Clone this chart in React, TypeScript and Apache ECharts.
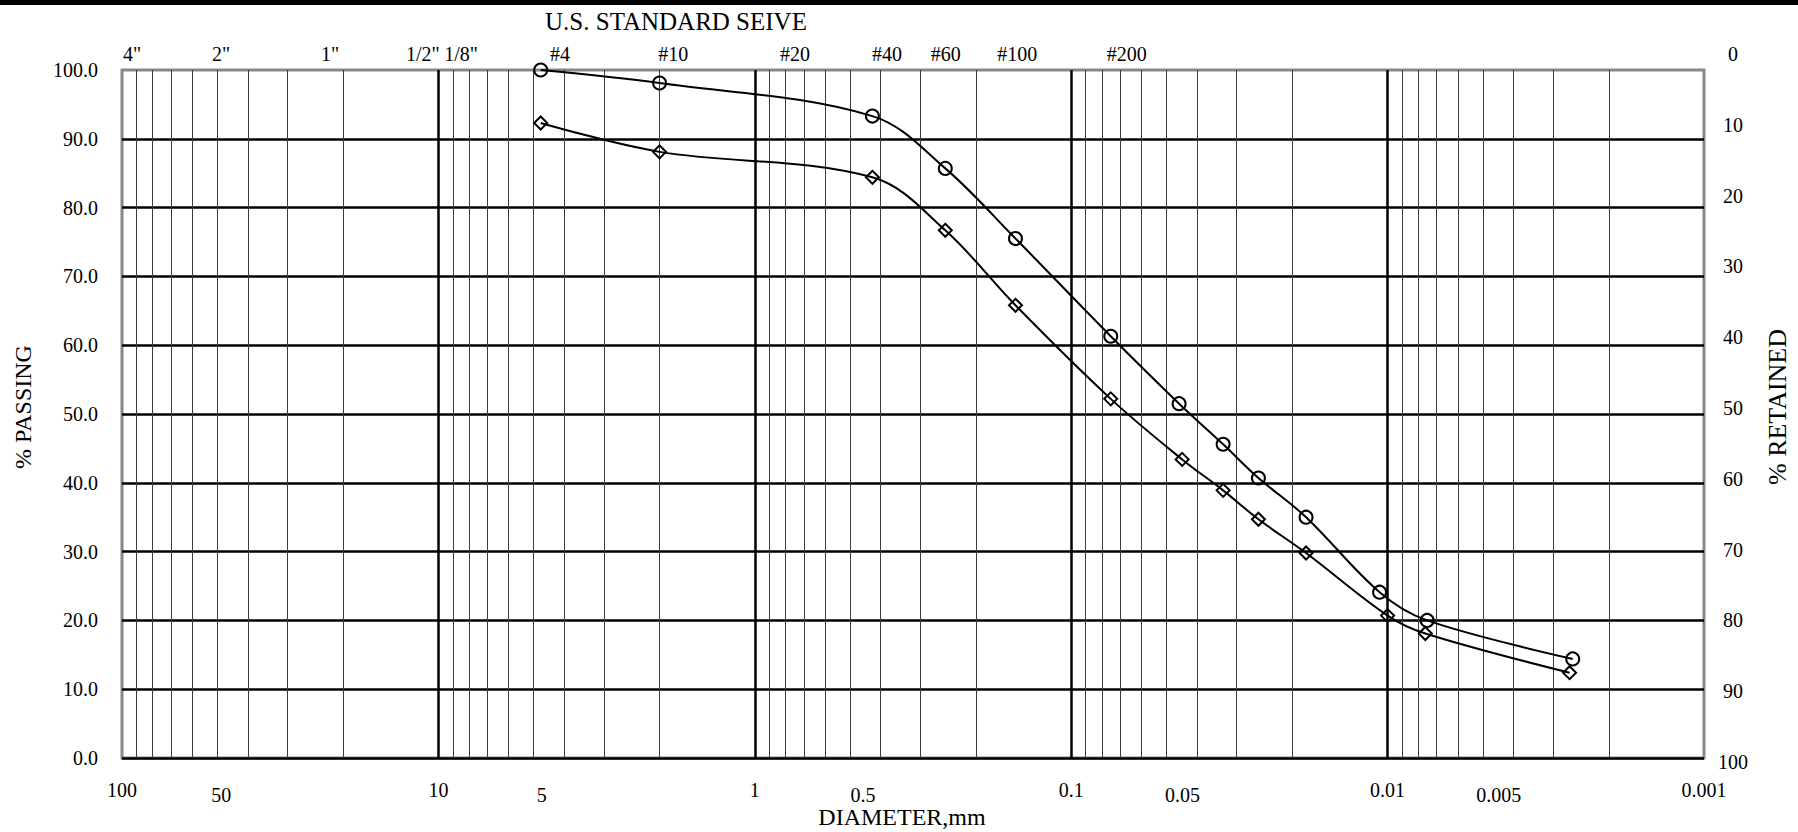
import React, { useEffect, useRef } from 'react';
import * as echarts from 'echarts';

// Grain size distribution data (diameter in mm, % passing)
const circleDiameters = [4.75, 2.0, 0.425, 0.25, 0.15, 0.075, 0.0456, 0.0331, 0.0256, 0.0181, 0.0106, 0.0075, 0.0026];
const circlePassing = [100.0, 98.1, 93.3, 85.7, 75.5, 61.3, 51.5, 45.6, 40.7, 35.0, 24.1, 20.0, 14.4];
const diamondDiameters = [4.75, 2.0, 0.425, 0.25, 0.15, 0.075, 0.0446, 0.0331, 0.0256, 0.0181, 0.0100, 0.0076, 0.00266];
const diamondPassing = [92.3, 88.1, 84.4, 76.7, 65.8, 52.2, 43.4, 38.9, 34.7, 29.8, 20.7, 18.1, 12.4];

// Axis tick labels
const majorTicks = [100, 10, 1, 0.1, 0.01, 0.001];
const majorLabels = ['100', '10', '1', '0.1', '0.01', '0.001'];
const halfTicks = [50, 5, 0.5, 0.05, 0.005];
const halfLabels = ['50', '5', '0.5', '0.05', '0.005'];
const sieveNames = ['4"', '2"', '1"', '1/2"', '1/8"', '#4', '#10', '#20', '#40', '#60', '#100', '#200'];
const sieveLabelAt = [93, 48.6, 22.0, 11.2, 8.48, 4.13, 1.81, 0.746, 0.382, 0.249, 0.148, 0.0667];

const FONT = "'Liberation Serif', 'Times New Roman', serif";

export default function App() {
  const ref = useRef<HTMLDivElement>(null);

  useEffect(() => {
    document.body.style.margin = '0';
    const chart = echarts.init(ref.current!, undefined, { renderer: 'svg' });
    const lg = (v: number) => Math.log10(v);
    const nearest = (arr: number[], v: number) => {
      let best = 0;
      arr.forEach((a, i) => {
        if (Math.abs(lg(a) - v) < Math.abs(lg(arr[best]) - v)) best = i;
      });
      return best;
    };

    const minorVals: number[] = [];
    for (let e = -3; e <= 1; e++) {
      for (let k = 2; k <= 9; k++) minorVals.push(lg(k * Math.pow(10, e)));
    }

    const halfOffsets = [4, 8, 13, 16, 16];
    const rich: any = {};
    halfOffsets.forEach((o, i) => {
      rich['h' + i] = { fontFamily: FONT, fontSize: 20, color: '#000', padding: [0, 0, 0, 2 * o] };
    });

    const labelStyle = { fontFamily: FONT, fontSize: 20, color: '#000' };
    const xBase = { type: 'value', min: -3, max: 2, inverse: true, gridIndex: 0 };

    const option: any = {
      animation: false,
      backgroundColor: '#fff',
      grid: [
        { left: 122, top: 70, width: 1582, height: 688, show: true, borderColor: '#888', borderWidth: 3, backgroundColor: 'transparent' },
        { left: 122, top: 54, width: 1582, height: 708, show: false },
      ],
      xAxis: [
        {
          ...xBase,
          position: 'bottom',
          axisLine: { show: false },
          axisTick: { show: false, customValues: minorVals },
          axisLabel: { show: false },
          splitLine: { show: true, lineStyle: { color: '#3a3a3a', width: 1 } },
        },
        {
          ...xBase,
          position: 'bottom',
          interval: 1,
          axisLine: { show: false },
          axisTick: { show: false },
          axisLabel: {
            ...labelStyle,
            margin: 22,
            showMinLabel: true,
            showMaxLabel: true,
            formatter: (v: number) => majorLabels[nearest(majorTicks, v)],
          },
          splitLine: { show: true, showMinLine: false, showMaxLine: false, lineStyle: { color: '#000', width: 2.5 } },
        },
        {
          ...xBase,
          position: 'bottom',
          axisLine: { show: false },
          axisTick: { show: false, customValues: halfTicks.map(lg) },
          axisLabel: {
            ...labelStyle,
            margin: 27,
            customValues: halfTicks.map(lg),
            rich,
            formatter: (v: number) => {
              const i = nearest(halfTicks, v);
              return '{h' + i + '|' + halfLabels[i] + '}';
            },
          },
          splitLine: { show: false },
        },
        {
          ...xBase,
          position: 'top',
          axisLine: { show: false },
          axisTick: { show: false, customValues: sieveLabelAt.map(lg) },
          axisLabel: {
            ...labelStyle,
            margin: 6,
            customValues: sieveLabelAt.map(lg),
            formatter: (v: number) => sieveNames[nearest(sieveLabelAt, v)],
          },
          splitLine: { show: false },
        },
        { type: 'value', gridIndex: 1, min: 0, max: 1, show: false },
      ],
      yAxis: [
        {
          type: 'value',
          gridIndex: 0,
          min: 0,
          max: 100,
          interval: 10,
          axisLine: { show: false },
          axisTick: { show: false },
          axisLabel: { ...labelStyle, margin: 24, formatter: (v: number) => v.toFixed(1) },
          splitLine: { show: true, showMaxLine: false, lineStyle: { color: '#000', width: 2.5 } },
        },
        {
          type: 'value',
          gridIndex: 1,
          position: 'right',
          inverse: true,
          min: 0,
          max: 100,
          interval: 10,
          axisLine: { show: false },
          axisTick: { show: false },
          axisLabel: { ...labelStyle, align: 'center', margin: 29 },
          splitLine: { show: false },
        },
      ],
      series: [
        {
          type: 'line',
          xAxisIndex: 0,
          yAxisIndex: 0,
          data: circleDiameters.map((d, i) => [lg(d), circlePassing[i]]),
          smooth: 0.35,
          symbol: 'circle',
          symbolSize: 13,
          lineStyle: { color: '#000', width: 2 },
          itemStyle: { color: 'rgba(0,0,0,0)', borderColor: '#000', borderWidth: 2 },
          z: 5,
        },
        {
          type: 'line',
          xAxisIndex: 0,
          yAxisIndex: 0,
          data: diamondDiameters.map((d, i) => [lg(d), diamondPassing[i]]),
          smooth: 0.35,
          symbol: 'diamond',
          symbolSize: 13,
          lineStyle: { color: '#000', width: 2 },
          itemStyle: { color: 'rgba(0,0,0,0)', borderColor: '#000', borderWidth: 2 },
          z: 5,
        },
      ],
      graphic: [
        { type: 'rect', shape: { x: 0, y: 0, width: 1798, height: 5 }, style: { fill: '#000' } },
        {
          type: 'text', x: 676, y: 21,
          style: { text: 'U.S. STANDARD SEIVE', fontFamily: FONT, fontSize: 25, fill: '#000', align: 'center', verticalAlign: 'middle' },
        },
        {
          type: 'text', x: 23, y: 407, rotation: Math.PI / 2,
          style: { text: '% PASSING', fontFamily: FONT, fontSize: 24, fill: '#000', align: 'center', verticalAlign: 'middle' },
        },
        {
          type: 'text', x: 1777, y: 407, rotation: Math.PI / 2,
          style: { text: '% RETAINED', fontFamily: FONT, fontSize: 26, fill: '#000', align: 'center', verticalAlign: 'middle' },
        },
        {
          type: 'text', x: 902, y: 817,
          style: { text: 'DIAMETER,mm', fontFamily: FONT, fontSize: 24, fill: '#000', align: 'center', verticalAlign: 'middle' },
        },
      ],
    };

    chart.setOption(option);
    return () => chart.dispose();
  }, []);

  return <div ref={ref} style={{ width: 1798, height: 832 }} />;
}
